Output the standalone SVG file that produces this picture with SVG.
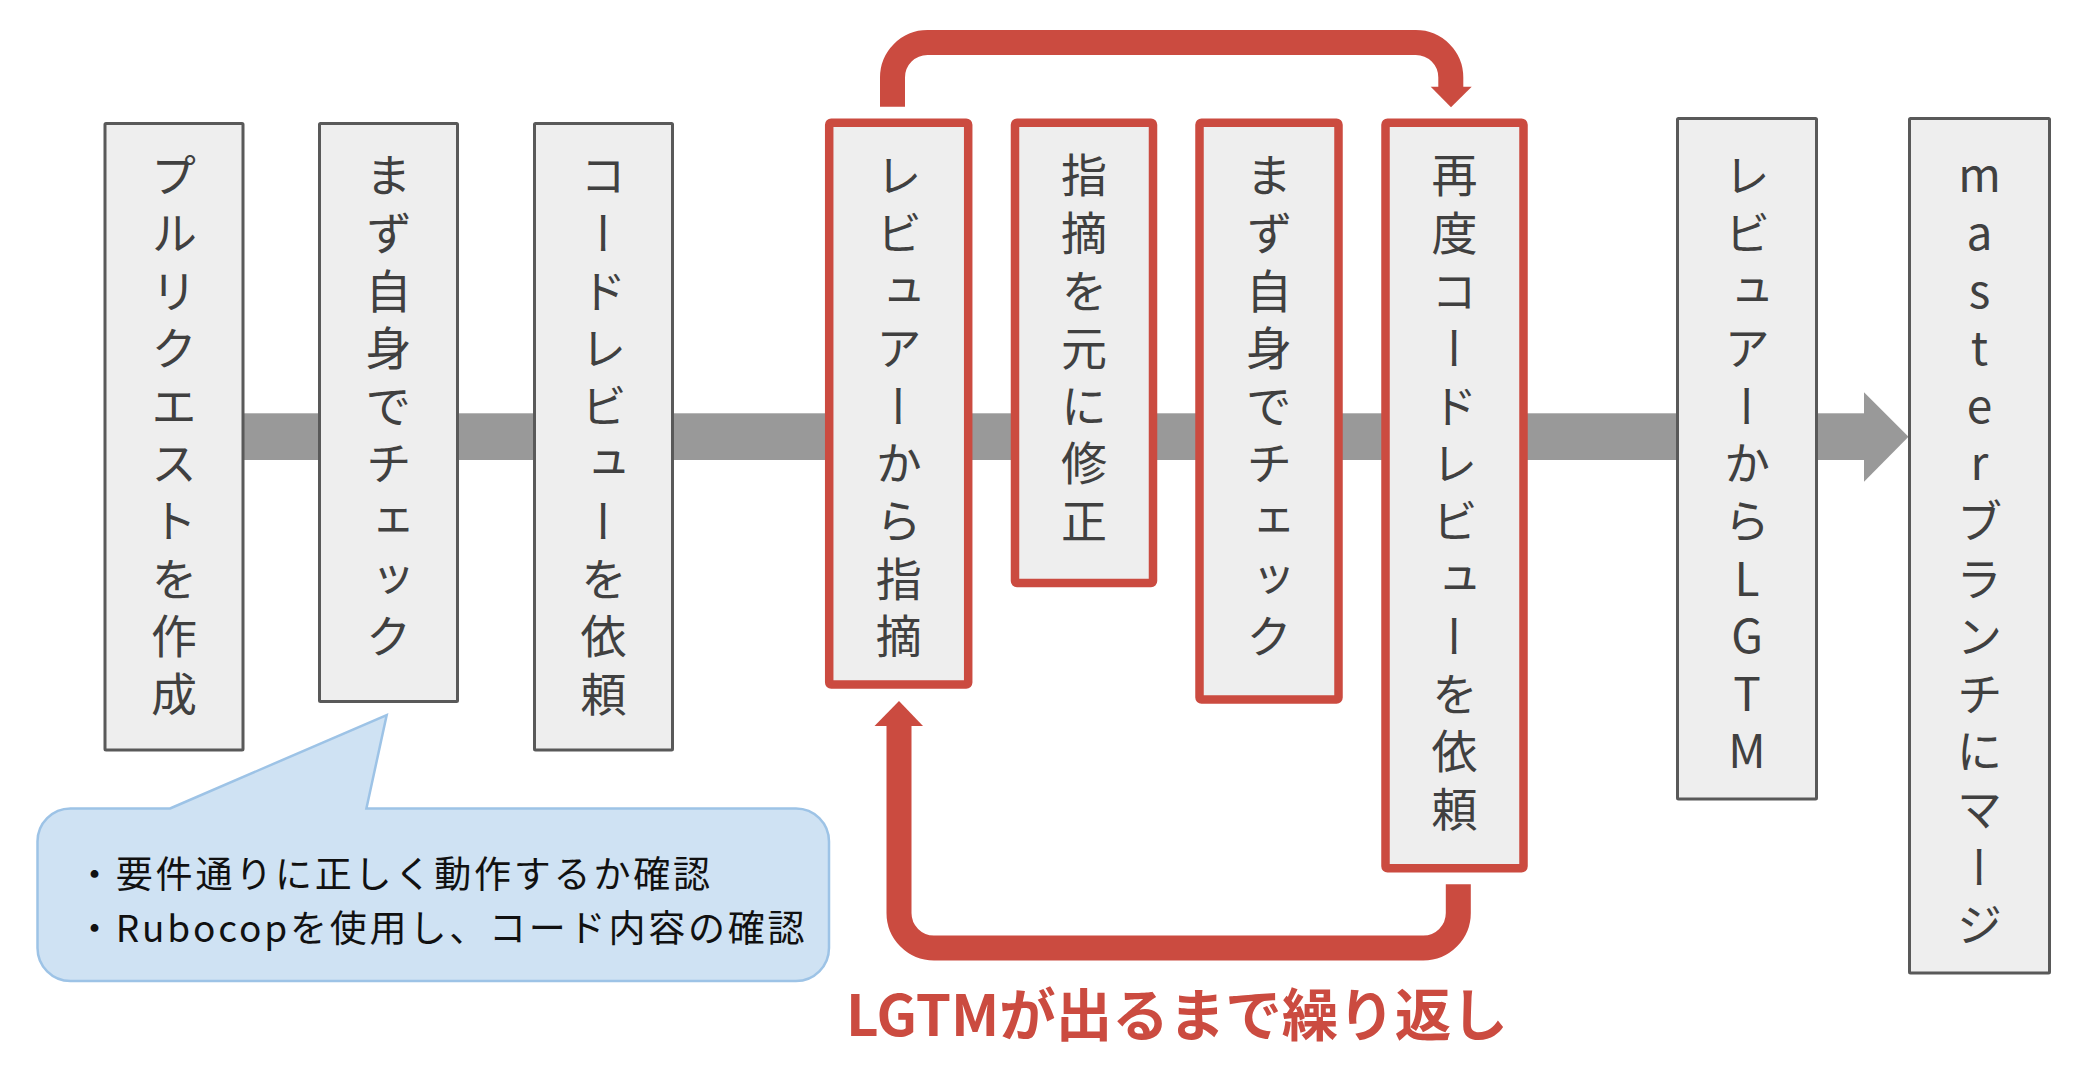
<svg xmlns="http://www.w3.org/2000/svg" width="2078" height="1090" viewBox="0 0 2078 1090">
<style>
.gbox{fill:#eeeeee;stroke:#595959;stroke-width:3}
.rbox{fill:#eeeeee;stroke:#cb4b40;stroke-width:8.5}
.vt{font-family:"Noto Sans CJK JP","Noto Sans",sans-serif;font-size:46px;fill:#404040;writing-mode:vertical-rl;text-orientation:upright;letter-spacing:11.6px}
.red{fill:none;stroke:#cb4b40;stroke-width:25;stroke-linecap:butt;stroke-linejoin:round}
.redhead{fill:#cb4b40}
.note{font-family:"Noto Sans CJK JP","Noto Sans",sans-serif;font-size:37px;letter-spacing:2.8px;fill:#111111}
.loop{font-family:"Noto Sans CJK JP","Noto Sans",sans-serif;font-size:56.5px;font-weight:700;fill:#cb4b40}
</style>
<rect width="2078" height="1090" fill="#ffffff"/>
<g id="connectors">
  <rect x="240" y="413.3" width="1625" height="46.7" fill="#999999"/>
  <polygon points="1864,392.3 1908.5,436.7 1864,481.7" fill="#999999"/>
  <path class="red" d="M892.5,106.7 V77.5 A35,35 0 0 1 927.5,42.5 H1415.8 A35,35 0 0 1 1450.8,77.5 V87.5"/>
  <polygon class="redhead" points="1430.7,86.7 1471.7,86.7 1451,107.3"/>
  <path class="red" d="M1458.3,884.3 V913 A35,35 0 0 1 1423.3,948 H934 A35,35 0 0 1 899,913 V725"/>
  <polygon class="redhead" points="874.5,726 923,726 899,701"/>
</g>
<g id="node1">
  <rect class="gbox" x="105" y="123.5" width="138" height="626.5" rx="1"/>
  <text class="vt" x="174" y="152">プルリクエストを作成</text>
</g>
<g id="node2">
  <rect class="gbox" x="319.5" y="123.5" width="138" height="578" rx="1"/>
  <text class="vt" x="388.5" y="152">まず自身でチェック</text>
</g>
<g id="node3">
  <rect class="gbox" x="534.5" y="123.5" width="138" height="626.5" rx="1"/>
  <text class="vt" x="603.5" y="152">コードレビューを依頼</text>
</g>
<g id="node4">
  <rect class="rbox" x="829.2" y="122.7" width="139" height="561.8" rx="2"/>
  <text class="vt" x="898.7" y="152">レビュアーから指摘</text>
</g>
<g id="node5">
  <rect class="rbox" x="1015" y="122.7" width="138" height="460.3" rx="2"/>
  <text class="vt" x="1084" y="152">指摘を元に修正</text>
</g>
<g id="node6">
  <rect class="rbox" x="1199.5" y="122.7" width="139" height="576.8" rx="2"/>
  <text class="vt" x="1269" y="152">まず自身でチェック</text>
</g>
<g id="node7">
  <rect class="rbox" x="1385.5" y="122.7" width="138" height="745.6" rx="2"/>
  <text class="vt" x="1454.5" y="152">再度コードレビューを依頼</text>
</g>
<g id="node8">
  <rect class="gbox" x="1677.5" y="118.5" width="139" height="680.5" rx="1"/>
  <text class="vt" x="1747" y="152">レビュアーからLGTM</text>
</g>
<g id="node9">
  <rect class="gbox" x="1909.5" y="118.5" width="140" height="854.5" rx="1"/>
  <text class="vt" x="1979.5" y="152">masterブランチにマージ</text>
</g>
<g id="callout">
  <path d="M170,808.5 L386.7,715 L366.4,808.5 H796 A33,33 0 0 1 829,841.5 V948 A33,33 0 0 1 796,981 H70.5 A33,33 0 0 1 37.5,948 V841.5 A33,33 0 0 1 70.5,808.5 Z" fill="#cfe2f3" stroke="#9dc3e6" stroke-width="2.5"/>
  <text class="note" x="76" y="888"><tspan x="76" y="888">・要件通りに正しく動作するか確認</tspan><tspan x="76" y="942">・Rubocopを使用し、コード内容の確認</tspan></text>
</g>
<g id="loop-label">
  <text class="loop" x="846" y="1036">LGTMが出るまで繰り返し</text>
</g>
</svg>
